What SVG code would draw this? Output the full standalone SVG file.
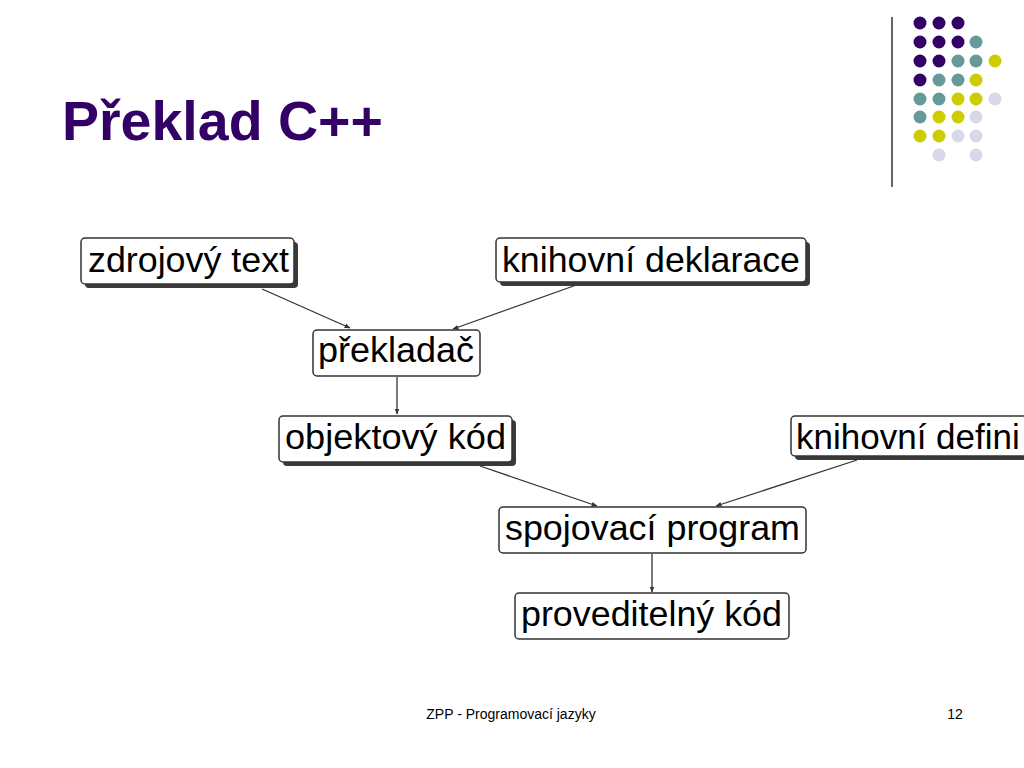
<svg xmlns="http://www.w3.org/2000/svg" width="1024" height="768" viewBox="0 0 1024 768">
<defs>
<style>
.bx{fill:#fff;stroke:#333;stroke-width:1.5}
.sh{fill:#3a3a3a}
.t{font-family:"Liberation Sans",Arial,sans-serif;font-size:35px;fill:#000}
.c{stroke:#333;stroke-width:1.3;fill:none;marker-end:url(#ah)}
.p{fill:#330066}.g{fill:#669999}.y{fill:#cccc00}.l{fill:#d8d8e8}
</style>
<marker id="ah" viewBox="0 0 10 10" refX="9" refY="5" markerWidth="6" markerHeight="6" orient="auto" markerUnits="userSpaceOnUse">
<path d="M0,1 L10,5 L0,9 Z" fill="#333"/>
</marker>
</defs>
<rect width="1024" height="768" fill="#fff"/>
<g id="decor">
<line x1="892" y1="17" x2="892" y2="187" stroke="#333" stroke-width="1.5"/>
<g>
<circle class="p" cx="920" cy="23" r="6.5"/><circle class="p" cx="939" cy="23" r="6.5"/><circle class="p" cx="958" cy="23" r="6.5"/>
<circle class="p" cx="920" cy="42" r="6.5"/><circle class="p" cx="939" cy="42" r="6.5"/><circle class="p" cx="958" cy="42" r="6.5"/><circle class="g" cx="976" cy="42" r="6.5"/>
<circle class="p" cx="920" cy="61" r="6.5"/><circle class="p" cx="939" cy="61" r="6.5"/><circle class="g" cx="958" cy="61" r="6.5"/><circle class="g" cx="976" cy="61" r="6.5"/><circle class="y" cx="995" cy="61" r="6.5"/>
<circle class="p" cx="920" cy="80" r="6.5"/><circle class="g" cx="939" cy="80" r="6.5"/><circle class="g" cx="958" cy="80" r="6.5"/><circle class="y" cx="976" cy="80" r="6.5"/>
<circle class="g" cx="920" cy="99" r="6.5"/><circle class="g" cx="939" cy="99" r="6.5"/><circle class="y" cx="958" cy="99" r="6.5"/><circle class="y" cx="976" cy="99" r="6.5"/><circle class="l" cx="995" cy="99" r="6.5"/>
<circle class="g" cx="920" cy="117" r="6.5"/><circle class="y" cx="939" cy="117" r="6.5"/><circle class="y" cx="958" cy="117" r="6.5"/><circle class="l" cx="976" cy="117" r="6.5"/>
<circle class="y" cx="920" cy="136" r="6.5"/><circle class="y" cx="939" cy="136" r="6.5"/><circle class="l" cx="958" cy="136" r="6.5"/><circle class="l" cx="976" cy="136" r="6.5"/>
<circle class="l" cx="939" cy="155" r="6.5"/><circle class="l" cx="976" cy="155" r="6.5"/>
</g>
</g>
<text x="62" y="140" font-family="Liberation Sans,Arial,sans-serif" font-weight="bold" font-size="55.5" fill="#330066">Překlad C++</text>
<g id="connectors">
<line class="c" x1="262" y1="289" x2="350" y2="328"/>
<line class="c" x1="582" y1="283" x2="453" y2="329"/>
<line class="c" x1="397" y1="377" x2="397" y2="414"/>
<line class="c" x1="480" y1="466" x2="597" y2="506"/>
<line class="c" x1="857" y1="460" x2="716" y2="506"/>
<line class="c" x1="652" y1="554" x2="652" y2="592"/>
</g>
<g id="n-zdroj"><rect class="sh" x="85" y="242" width="213" height="46" rx="4"/><rect class="bx" x="81" y="238" width="213" height="46" rx="4"/><text class="t" x="88" y="272" textLength="201" lengthAdjust="spacingAndGlyphs">zdrojový text</text></g>
<g id="n-dekl"><rect class="sh" x="500" y="242" width="310" height="44" rx="4"/><rect class="bx" x="496" y="238" width="310" height="44" rx="4"/><text class="t" x="502" y="272" textLength="298" lengthAdjust="spacingAndGlyphs">knihovní deklarace</text></g>
<g id="n-prekl"><rect class="bx" x="313" y="330" width="167" height="46" rx="4"/><text class="t" x="318" y="362" textLength="156" lengthAdjust="spacingAndGlyphs">překladač</text></g>
<g id="n-obj"><rect class="sh" x="283" y="420" width="233" height="46" rx="4"/><rect class="bx" x="279" y="416" width="233" height="46" rx="4"/><text class="t" x="285" y="449" textLength="221" lengthAdjust="spacingAndGlyphs">objektový kód</text></g>
<g id="n-defin"><rect class="sh" x="795" y="420" width="260" height="40" rx="4"/><rect class="bx" x="791" y="416" width="260" height="40" rx="4"/><text class="t" x="796" y="449">knihovní defini</text></g>
<g id="n-spoj"><rect class="bx" x="499" y="507" width="307" height="46" rx="4"/><text class="t" x="505" y="540" textLength="295" lengthAdjust="spacingAndGlyphs">spojovací program</text></g>
<g id="n-prov"><rect class="bx" x="515" y="593" width="274" height="46" rx="4"/><text class="t" x="521" y="626" textLength="261" lengthAdjust="spacingAndGlyphs">proveditelný kód</text></g>
<text x="511" y="719" text-anchor="middle" font-family="Liberation Sans,Arial,sans-serif" font-size="14" fill="#000">ZPP - Programovací jazyky</text>
<text x="955" y="719" text-anchor="middle" font-family="Liberation Sans,Arial,sans-serif" font-size="14" fill="#000">12</text>
</svg>
